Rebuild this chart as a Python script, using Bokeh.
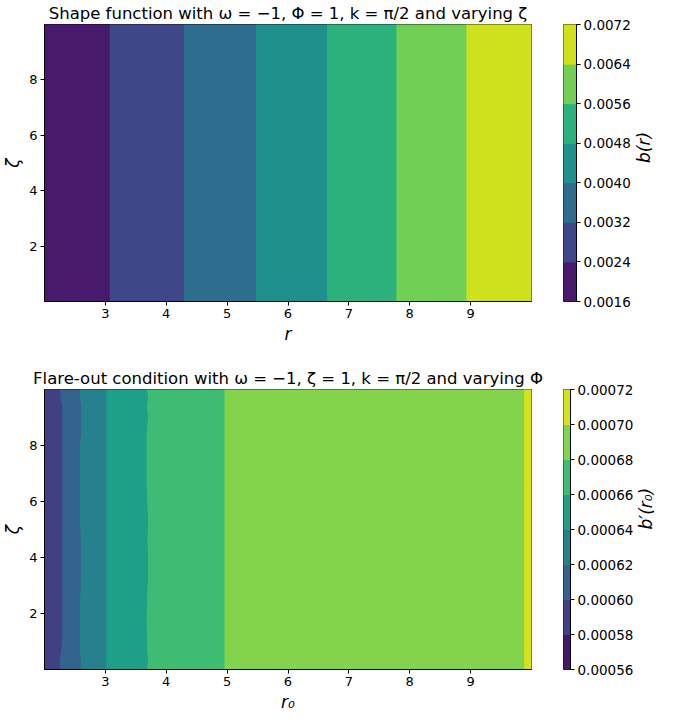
import math
from bokeh.plotting import figure
from bokeh.layouts import column, row
from bokeh.models import Range1d, PrintfTickFormatter, ColumnDataSource
from bokeh.palettes import Viridis256
from bokeh.embed import file_html
from bokeh.resources import INLINE

FONT = "DejaVu Sans"

# ---------------- data: top panel, shape function b(r) (independent of zeta)
B_LEVELS = [0.0016, 0.0024, 0.0032, 0.0040, 0.0048, 0.0056, 0.0064, 0.0072]
# r positions where b(r) crosses each contour level (first/last = domain ends)
R_EDGES = [2.0, 3.08, 4.30, 5.48, 6.65, 7.79, 8.94, 10.0]
R_RANGE = [2.0, 10.0]
ZETA_RANGE = [0.02, 9.98]
X_TICKS = [3, 4, 5, 6, 7, 8, 9]
Y_TICKS = [2, 4, 6, 8]

# ---------------- data: bottom panel, flare-out b'(r0)
DB_LEVELS = [0.00056, 0.00058, 0.00060, 0.00062, 0.00064,
             0.00066, 0.00068, 0.00070, 0.00072]
ZETA_S = [0.02, 0.4, 0.8, 2.0, 3.35, 4.0, 4.6, 5.3, 6.5, 8.0, 8.4, 9.0, 9.4, 9.7, 9.98]
# r0 of each contour boundary along zeta
B060 = [2.26, 2.26, 2.29, 2.30, 2.30, 2.30, 2.30, 2.30, 2.30, 2.30, 2.30, 2.30, 2.295, 2.27, 2.27]
B062 = [2.605, 2.60, 2.59, 2.59, 2.605, 2.605, 2.605, 2.59, 2.59, 2.59, 2.61, 2.61, 2.61, 2.59, 2.59]
B064 = [3.025, 3.025, 3.025, 3.025, 3.025, 3.025, 3.025, 3.025, 3.025, 3.025, 3.025, 3.025, 3.025, 3.025, 3.025]
B066 = [3.69, 3.71, 3.69, 3.685, 3.71, 3.71, 3.70, 3.71, 3.685, 3.685, 3.685, 3.71, 3.69, 3.71, 3.69]
B068 = [4.965, 4.965, 4.965, 4.965, 4.965, 4.965, 4.965, 4.965, 4.965, 4.965, 4.965, 4.965, 4.965, 4.965, 4.965]
B070 = [9.89, 9.89, 9.89, 9.89, 9.89, 9.89, 9.89, 9.89, 9.89, 9.89, 9.89, 9.89, 9.89, 9.89, 9.89]
BOUNDS = [B060, B062, B064, B066, B068, B070]
FIRST_BAND = 1  # leftmost band is 0.00058-0.00060

TITLE1 = "Shape function with ω = −1, Φ = 1, k = π/2 and varying ζ"
TITLE2 = "Flare-out condition with ω = −1, ζ = 1, k = π/2 and varying Φ"


def band_colors(n):
    return [Viridis256[min(255, int((i + 0.5) / n * 256))] for i in range(n)]


def style_axes(p, tick_size="13px"):
    p.grid.visible = False
    p.outline_line_color = "black"
    p.outline_line_width = 1
    for ax in p.axis:
        ax.major_label_text_font = FONT
        ax.major_label_text_font_size = tick_size
        ax.major_label_text_color = "black"
        ax.axis_label_text_font = FONT
        ax.axis_label_text_font_size = "17px"
        ax.axis_label_text_font_style = "italic"
        ax.axis_label_text_color = "black"
        ax.major_tick_in = 0
        ax.major_tick_out = 4
        ax.minor_tick_in = 0
        ax.minor_tick_out = 0
        ax.axis_line_color = "black"
        ax.major_tick_line_color = "black"
        ax.major_label_standoff = 3
        ax.axis_label_standoff = 3


def main_fig(title, xlabel, h, top, bottom):
    p = figure(width=562, height=h, x_range=Range1d(*R_RANGE), y_range=Range1d(*ZETA_RANGE),
               title=title, toolbar_location=None, output_backend="svg",
               min_border_left=37, min_border_right=31, min_border_top=top, min_border_bottom=bottom)
    p.title.text_font = FONT
    p.title.text_font_size = "16.5px"
    p.title.text_font_style = "normal"
    p.title.text_color = "black"
    p.title.align = "center"
    p.title.standoff = 3
    style_axes(p)
    p.xaxis.ticker = X_TICKS
    p.yaxis.ticker = Y_TICKS
    p.xaxis.axis_label = xlabel
    p.yaxis.axis_label = "ζ"
    return p


def colorbar_fig(levels, fmt, label, h, top, bottom):
    c = figure(width=107, height=h, x_range=Range1d(0, 1), y_range=Range1d(levels[0], levels[-1]),
               toolbar_location=None, output_backend="svg", x_axis_location=None,
               y_axis_location="right",
               min_border_left=1, min_border_right=93, min_border_top=top, min_border_bottom=bottom)
    cols = band_colors(len(levels) - 1)
    c.quad(left=0, right=1, bottom=levels[:-1], top=levels[1:], fill_color=cols, line_color=cols)
    style_axes(c, "13.5px")
    c.yaxis.ticker = levels
    c.yaxis.formatter = PrintfTickFormatter(format=fmt)
    c.yaxis.axis_label = label
    c.yaxis.axis_label_standoff = 10
    ax = c.yaxis[0]
    if "axis_label_orientation" in ax.properties():
        ax.axis_label_orientation = math.pi / 2
    return c


# ---------------- top panel
p1 = main_fig(TITLE1, "r", 346, 20, 44)
cols1 = band_colors(len(B_LEVELS) - 1)
p1.quad(left=R_EDGES[:-1], right=R_EDGES[1:], bottom=ZETA_RANGE[0], top=ZETA_RANGE[1],
        fill_color=cols1, line_color=cols1, line_width=1)
c1 = colorbar_fig(B_LEVELS, "%.4f", "b(r)", 346, 20, 44)

# ---------------- bottom panel
p2 = main_fig(TITLE2, "r₀", 368, 43, 43)
cols2 = band_colors(len(DB_LEVELS) - 1)
edges = [[R_RANGE[0]] * len(ZETA_S)] + BOUNDS + [[R_RANGE[1]] * len(ZETA_S)]
xs, ys, fc = [], [], []
for i in range(len(edges) - 1):
    xs.append(list(edges[i]) + list(edges[i + 1])[::-1])
    ys.append(list(ZETA_S) + list(ZETA_S)[::-1])
    fc.append(cols2[FIRST_BAND + i])
src = ColumnDataSource(dict(xs=xs, ys=ys, c=fc))
p2.patches("xs", "ys", source=src, fill_color="c", line_color="c", line_width=1)
c2 = colorbar_fig(DB_LEVELS, "%.5f", "b′(r₀)", 368, 43, 43)

layout = column(row(p1, c1), row(p2, c2))
open("out.html", "w").write(file_html(layout, INLINE))
